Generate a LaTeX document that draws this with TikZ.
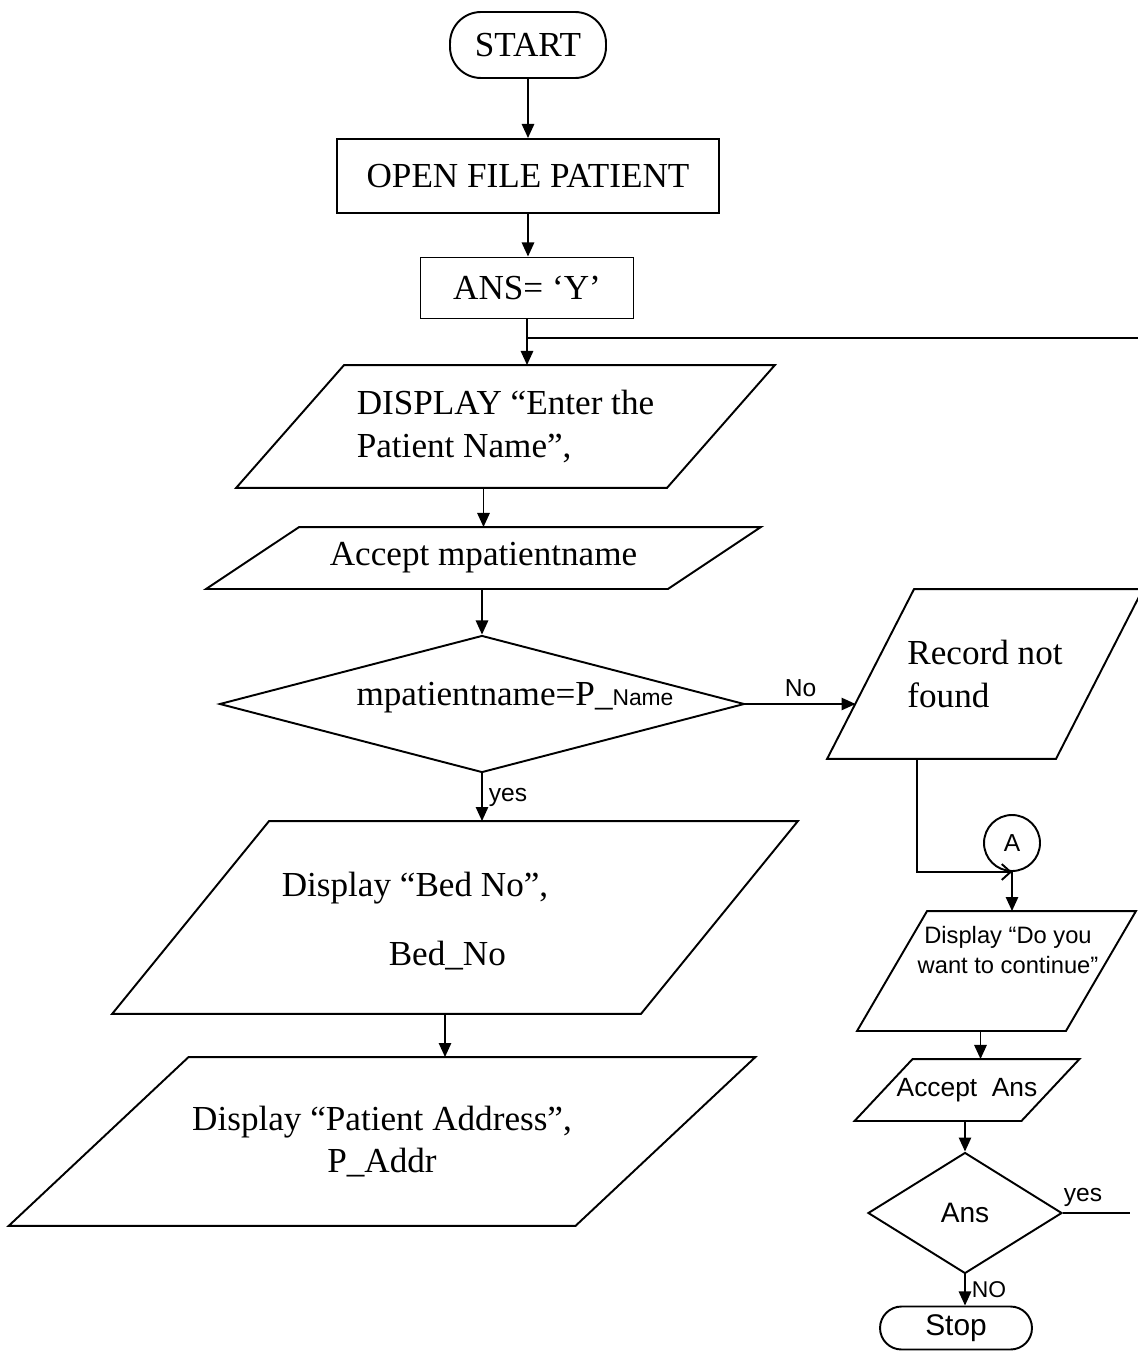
\documentclass[tikz,border=0pt]{standalone}
\usepackage{fontspec}
\setmainfont{Liberation Serif}
\newfontfamily\handfont{Liberation Sans}
\usepackage{tikz}
\usetikzlibrary{shapes.geometric}
\usetikzlibrary{arrows.meta}

% slanted input/output box drawn round a named rectangle node
\newcommand\slantbox[2]{%
  \draw ([xshift=#2/2]#1.north west) -- ([xshift=#2/2]#1.north east)
     -- ([xshift=-#2/2]#1.south east) -- ([xshift=-#2/2]#1.south west) -- cycle;}

\begin{document}
\begin{tikzpicture}[x=0.02cm, y=-0.02cm, line width=1.1pt,
    font=\fontsize{20}{24}\selectfont,
    proc/.style={draw, rectangle, inner sep=2pt},
    term/.style={draw, rectangle, inner sep=1pt},
    io/.style={rectangle, inner sep=2pt},
    test/.style={draw, diamond, inner sep=0pt},
    hand/.style={font=\handfont\fontsize{#1}{17}\selectfont},
    arr/.style={-{Triangle[length=8pt,width=7pt]}},
    ]
    \useasboundingbox (0,0) rectangle (1138,1355);

    % draw left column
    \node[term, minimum width=3.12cm, minimum height=1.32cm, rounded corners=0.62cm] (start) at (528,45) {START};
    \node[proc, minimum width=7.64cm, minimum height=1.48cm] (open) at (528,176) {OPEN FILE PATIENT};
    \node[proc, minimum width=4.26cm, minimum height=1.22cm] (ans) at (527,288) {ANS= ‘Y’};

    \node[io, minimum width=8.58cm, minimum height=2.42cm, align=left] (enter) at (505.5,426.5)
        {DISPLAY “Enter the\\Patient Name”,};
    \slantbox{enter}{2.16cm}

    \node[io, minimum width=9.2cm, minimum height=1.2cm] (accname) at (483.5,558) {Accept mpatientname};
    \slantbox{accname}{1.86cm}

    \node[test, minimum width=10.5cm, minimum height=2.74cm] (check) at (482,704) {};
    \node (checktext) at (515,698) {mpatientname=P\_{\handfont\fontsize{13}{15}\selectfont Name}};

    \node[io, minimum width=10.54cm, minimum height=3.82cm] (bed) at (455,917.5) {};
    \slantbox{bed}{3.14cm}
    \node[align=left] (bedtext) at (415,921) {Display “Bed No”,\\[0.52cm]\hspace*{2.14cm}Bed\_No};

    \node[io, minimum width=11.3cm, minimum height=3.34cm, align=center] (addr) at (382,1141.5)
        {Display “Patient Address”,\\P\_Addr};
    \slantbox{addr}{3.6cm}

    % draw right column
    \node[io, minimum width=4.54cm, minimum height=3.36cm, align=left] (rec) at (985,674)
        {Record not\\found};
    \slantbox{rec}{1.74cm}

    \node[draw, circle, minimum size=1.12cm, inner sep=0pt, hand=14] (conA) at (1012,843) {A};

    \node[io, minimum width=4.14cm, minimum height=2.36cm] (ask) at (996.5,971) {};
    \slantbox{ask}{1.4cm}
    \node[hand=13.5, align=center] (asktext) at (1008,950) {Display “Do you\\want to continue”};

    \node[io, minimum width=3.3cm, minimum height=1.2cm, hand=15] (accans) at (967,1090) {Accept~~Ans};
    \slantbox{accans}{1.16cm}

    \node[test, minimum width=3.88cm, minimum height=2.42cm, hand=16] (again) at (965,1213) {Ans};

    \node[term, minimum width=3.04cm, minimum height=0.86cm, rounded corners=0.43cm, hand=17] (stop) at (956,1328) {Stop};

    % draw connectors
    \draw[arr] (start) -- (start |- open.north);
    \draw[arr] (open) -- (open |- ans.north);
    \draw[arr] (ans) -- (ans |- enter.north);
    \coordinate (loop) at (1138,338);
    \draw (loop) -- (loop -| ans);
    \draw[arr] (enter.south -| accname) -- (accname.north);
    \draw[arr] (accname.south -| check) -- (check.north);
    \draw[arr] (check.south) -- (check.south |- bed.north)
        node[midway, right, hand=14] (yesone) {yes};
    \draw[arr] ([xshift=-0.2cm]bed.south) -- ([xshift=-0.2cm]bed.south |- addr.north);

    \draw[arr] (check.east) -- ([xshift=-0.3cm]check.east -| rec.west)
        node[midway, above, hand=14] (noone) {No};
    \draw[-{Straight Barb[length=5pt,width=9pt]}] ([xshift=-1.36cm]rec.south) |- (conA.south);
    \draw[arr] (conA) -- (conA |- ask.north);
    \draw[arr] ([xshift=-0.32cm]ask.south) -- ([xshift=-0.32cm]ask.south |- accans.north);
    \draw[arr] (accans.south -| again) -- (again.north);
    \draw[arr] (again.south) -- (again.south |- stop.north)
        node[midway, right, hand=13] (notwo) {NO};
    \coordinate (yesout) at (1130,1213);
    \draw (again.east) -- (yesout) node[pos=0.3, above, hand=14] (yestwo) {yes};
\end{tikzpicture}
\end{document}
